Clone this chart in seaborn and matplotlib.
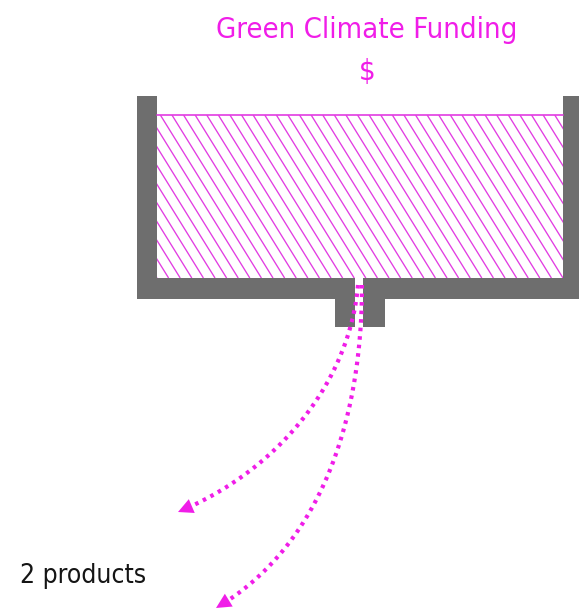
import numpy as np
import matplotlib
matplotlib.use("Agg")
import matplotlib.pyplot as plt
from matplotlib.patches import Rectangle, Polygon
import seaborn as sns

# ---- content ----
title_lines = ["Green Climate Funding", "$"]
product_label = "2 products"

# tank pieces (x, y, width, height) in pixel space of the diagram
wall_rects = [
    (137, 96, 20, 203),    # left wall
    (563, 96, 16, 203),    # right wall
    (137, 278, 218, 21),   # bottom left
    (363, 278, 216, 21),   # bottom right
    (335, 299, 20, 28),    # outlet left
    (363, 299, 22, 28),    # outlet right
]
fund_area = (157, 115, 406, 163)   # hatched funds

# flow curves (cubic bezier control points)
flow_a = [(358, 285), (350, 380), (280, 470), (178, 512)]
flow_b = [(362, 285), (362, 430), (315, 550), (216, 608)]

GRAY = "#6e6e6e"
MAG = "#f01de8"
HATCH = "#e23ce2"

sns.set_theme(style="white")
plt.rcParams["font.family"] = ["DejaVu Sans"]

fig = plt.figure(figsize=(5.79, 6.14), dpi=100)
ax = fig.add_axes([0, 0, 1, 1])
ax.set_xlim(0, 579)
ax.set_ylim(614, 0)
ax.axis("off")

# hatched fund area
fx, fy, fw, fh = fund_area
clip = Rectangle((fx, fy), fw, fh, facecolor="none", edgecolor="none")
ax.add_patch(clip)
slope = 0.62  # dx per dy
spacing = 11.6
starts = np.arange(fx - fh * slope, fx + fw + spacing, spacing)
for s in starts:
    ln, = ax.plot([s, s + fh * slope], [fy, fy + fh], color=HATCH, lw=0.95, solid_capstyle="butt")
    ln.set_clip_path(clip)
ax.plot([fx, fx + fw], [fy, fy], color=HATCH, lw=1.2)

for (x, y, w, h) in wall_rects:
    ax.add_patch(Rectangle((x, y), w, h, facecolor=GRAY, edgecolor="none"))


def bezier(pts, n=300):
    p = np.array(pts, dtype=float)
    t = np.linspace(0, 1, n)[:, None]
    return ((1 - t) ** 3) * p[0] + 3 * ((1 - t) ** 2) * t * p[1] + 3 * (1 - t) * t ** 2 * p[2] + t ** 3 * p[3]


for pts in (flow_a, flow_b):
    c = bezier(pts)
    tip = c[-1]
    d = c[-1] - c[-10]
    d = d / np.linalg.norm(d)
    hl = 15.0
    dist = np.linalg.norm(c - tip, axis=1)
    body = c[dist > hl * 0.9]
    ax.plot(body[:, 0], body[:, 1], color=MAG, lw=3.0, dashes=(0.85, 1.2),
            dash_capstyle="butt")
    perp = np.array([-d[1], d[0]])
    base = tip - d * hl
    tri = [tip, base + perp * 7.5, base - perp * 7.5]
    ax.add_patch(Polygon(tri, closed=True, facecolor=MAG, edgecolor="none"))

ax.text(367, 30, title_lines[0], color=MAG, fontsize=21, ha="center", va="center",
        fontstretch="condensed")
ax.text(367, 72, title_lines[1], color=MAG, fontsize=21, ha="center", va="center",
        fontstretch="condensed")
ax.text(20, 576, product_label, color="#151515", fontsize=19, ha="left", va="center",
        fontstretch="condensed")

fig.savefig("out.png", dpi=100)
